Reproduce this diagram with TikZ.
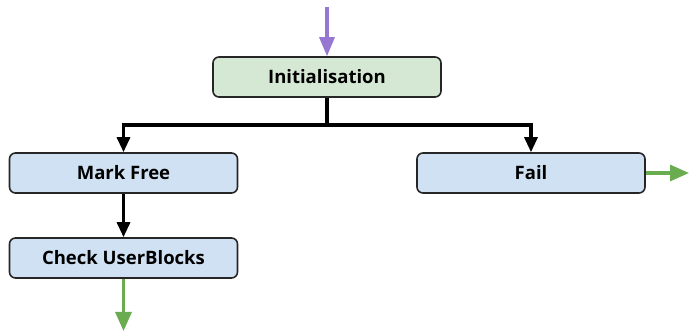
\documentclass[tikz,border=0pt]{standalone}
\usepackage{fontspec}
\setmainfont{Open Sans}
\usetikzlibrary{arrows.meta, positioning}

\definecolor{initfill}{RGB}{213,232,212}
\definecolor{stepfill}{RGB}{207,225,242}
\definecolor{inarrow}{RGB}{150,120,210}
\definecolor{outarrow}{RGB}{106,172,80}

\begin{document}
\begin{tikzpicture}[
  x=1pt, y=-1pt,
  stage/.style={
    rectangle, rounded corners=6pt,
    draw=black!85, line width=1.6pt,
    font=\fontsize{18.5}{22}\selectfont\bfseries,
    minimum width=228pt, minimum height=40pt, inner sep=0pt
  },
  flow/.style={
    -{Triangle[length=15pt, width=13pt]},
    line width=3.2pt, color=black
  },
  entry/.style={
    -{Triangle[length=19pt, width=15pt]},
    line width=3.2pt, color=inarrow
  },
  exit/.style={
    -{Triangle[length=19pt, width=16pt]},
    line width=3.2pt, color=outarrow
  }
]
\useasboundingbox (0,0) rectangle (689,331);

%% boxes
\node[stage, fill=initfill]  (init)  at (327, 77)   {Initialisation};
\node[stage, fill=stepfill]  (mark)  at (123.5, 173) {Mark Free};
\node[stage, fill=stepfill]  (fail)  at (531, 173)  {Fail};
\node[stage, fill=stepfill]  (check) at (123.5, 258) {Check UserBlocks};

%% loose ends
\coordinate (start) at (327, 7);
\coordinate (done)  at (123.5, 331);
\coordinate (abort) at (689, 173);
\coordinate (split) at (327, 125);

%% arrows
\draw[entry] (start) -- (init.north);
\draw[flow] (init.south) -- (split) -| (mark.north);
\draw[flow] (split) -| (fail.north);
\draw[flow] (mark) -- (check);
\draw[exit] (check.south) -- (done);
\draw[exit] (fail.east) -- (abort);

\end{tikzpicture}
\end{document}
